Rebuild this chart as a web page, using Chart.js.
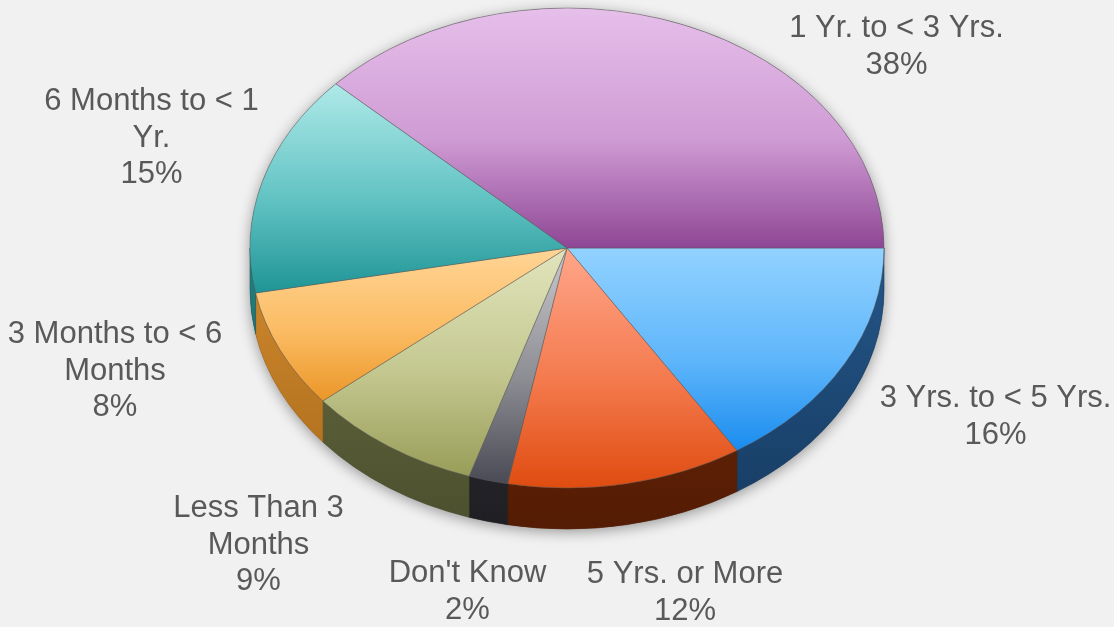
<!DOCTYPE html>
<html>
<head>
<meta charset="utf-8">
<title>Length of time</title>
<script src="https://cdn.jsdelivr.net/npm/chart.js@4.4.1/dist/chart.umd.min.js"></script>
<style>
  html, body { margin: 0; padding: 0; background: #f1f1f1; }
  #wrap { width: 1114px; height: 627px; position: relative; }
  canvas { display: block; }
</style>
</head>
<body>
<div id="wrap"><canvas id="pie" width="1114" height="627"></canvas></div>
<script>
// ---- data ----
const categories = [
  '3 Yrs. to < 5 Yrs.',
  '5 Yrs. or More',
  "Don't Know",
  'Less Than 3 Months',
  '3 Months to < 6 Months',
  '6 Months to < 1 Yr.',
  '1 Yr. to < 3 Yrs.'
];
const shares = [16, 12, 2, 9, 8, 15, 38];
const percentLabels = shares.map(v => v + '%');

// ---- styling ----
const faceLight = ['#92d2ff', '#ffa68a', '#c9c9cd', '#e2e5bd', '#ffd596', '#afe9e9', '#e6bfea'];
const faceMid   = ['#5fb6fb', '#f47a4e', '#8d8d94', '#c3c78f', '#fbbb62', '#62c3c3', '#cf9bd4'];
const faceDark  = ['#1a8cee', '#df4c10', '#4a4a55', '#989d58', '#eb9628', '#1f9496', '#8e4694'];
const sideTop   = ['#24578a', '#702a0a', '#34343b', '#6a6f42', '#d08a2e', '#237f80', '#6a3470'];
const sideBot   = ['#163b61', '#541c04', '#1e1e23', '#4b4f2e', '#a9691a', '#185f60', '#4e2553'];

// ---- layout ----
const RADIUS = 317;        // horizontal radius of the disc
const TILT = 0.757;        // vertical squash of the disc
const DEPTH = 41;          // thickness of the disc edge
const WRAP_WIDTH = 245;    // label wrapping width
const LINE_H = 36.5;
// label anchor: text centre x and first baseline, relative to the disc centre
const LABEL_SPOTS = [
  [428.5, 159], [118, 335], [-99.5, 334], [-308.5, 269],
  [-452, 95], [-415.5, -138], [329.5, -211]
];

const total = shares.reduce((a, b) => a + b, 0);

function sliceAngles(i) {
  let a0 = 0;
  for (let j = 0; j < i; j++) a0 += shares[j] / total * Math.PI * 2;
  return [a0, a0 + shares[i] / total * Math.PI * 2];
}

// vertical gradient across each slice's own extent (drawn in un-squashed space)
function faceFill(c) {
  const chart = c.chart, area = chart.chartArea, i = c.dataIndex;
  if (!area) return faceDark[i];
  const cy = (area.top + area.bottom) / 2;
  const [a0, a1] = sliceAngles(i);
  let lo = 0, hi = 0;
  for (let s = 0; s <= 64; s++) {
    const y = Math.sin(a0 + (a1 - a0) * s / 64);
    lo = Math.min(lo, y); hi = Math.max(hi, y);
  }
  const g = chart.ctx.createLinearGradient(0, cy + lo * RADIUS, 0, cy + hi * RADIUS);
  g.addColorStop(0, faceLight[i]);
  g.addColorStop(0.55, faceMid[i]);
  g.addColorStop(1, faceDark[i]);
  return g;
}

// draws the shadow and the rim, then squashes the canvas so the slices render as an ellipse
const tiltPlugin = {
  id: 'tilt',
  beforeDatasetsDraw(chart) {
    const ctx = chart.ctx;
    const arcs = chart.getDatasetMeta(0).data;
    const cx = arcs[0].x, cy = arcs[0].y, r = arcs[0].outerRadius, ry = r * TILT;

    ctx.save();
    ctx.shadowColor = 'rgba(0,0,0,0.38)';
    ctx.shadowBlur = 14;
    ctx.shadowOffsetY = 3;
    ctx.fillStyle = '#6a6a6a';
    ctx.beginPath();
    ctx.ellipse(cx, cy, r, ry, 0, Math.PI, Math.PI * 2);
    ctx.lineTo(cx + r, cy + DEPTH);
    ctx.ellipse(cx, cy + DEPTH, r, ry, 0, 0, Math.PI);
    ctx.closePath();
    ctx.fill();
    ctx.restore();

    arcs.forEach((arc, i) => {
      const s = Math.max(arc.startAngle, 0), e = Math.min(arc.endAngle, Math.PI);
      if (e <= s) return;
      ctx.beginPath();
      ctx.ellipse(cx, cy, r, ry, 0, s, e);
      ctx.ellipse(cx, cy + DEPTH, r, ry, 0, e, s, true);
      ctx.closePath();
      const g = ctx.createLinearGradient(0, cy, 0, cy + ry + DEPTH);
      g.addColorStop(0, sideTop[i]);
      g.addColorStop(1, sideBot[i]);
      ctx.fillStyle = g;
      ctx.fill();
      ctx.strokeStyle = sideBot[i];
      ctx.lineWidth = 0.6;
      ctx.stroke();
    });

    ctx.save();
    ctx.translate(cx, cy);
    ctx.scale(1, TILT);
    ctx.translate(-cx, -cy);
  },
  afterDatasetsDraw(chart) {
    chart.ctx.restore();
  }
};

function wrapText(ctx, text, maxW) {
  const words = text.split(' ');
  const out = [];
  let line = '';
  words.forEach(w => {
    const test = line ? line + ' ' + w : w;
    if (line && ctx.measureText(test).width > maxW) { out.push(line); line = w; }
    else line = test;
  });
  if (line) out.push(line);
  return out;
}

const labelPlugin = {
  id: 'sliceLabels',
  afterDatasetsDraw(chart) {
    const ctx = chart.ctx;
    const arc = chart.getDatasetMeta(0).data[0];
    const cx = arc.x, cy = arc.y;
    ctx.save();
    ctx.font = '31px "Liberation Sans", Arial, sans-serif';
    ctx.fillStyle = '#595959';
    ctx.textAlign = 'center';
    ctx.textBaseline = 'alphabetic';
    categories.forEach((name, i) => {
      const lines = wrapText(ctx, name, WRAP_WIDTH).concat(percentLabels[i]);
      const [dx, dy] = LABEL_SPOTS[i];
      lines.forEach((ln, k) => ctx.fillText(ln, cx + dx, cy + dy + k * LINE_H));
    });
    ctx.restore();
  }
};

new Chart(document.getElementById('pie'), {
  type: 'pie',
  data: {
    labels: categories,
    datasets: [{
      data: shares,
      backgroundColor: faceFill,
      borderColor: 'rgba(90,90,90,0.55)',
      borderWidth: 1
    }]
  },
  options: {
    responsive: false,
    animation: false,
    rotation: 90,
    radius: RADIUS,
    layout: { padding: { left: 20, right: 0, top: 0, bottom: 131 } },
    plugins: {
      legend: { display: false },
      tooltip: { enabled: false }
    }
  },
  plugins: [tiltPlugin, labelPlugin]
});
</script>
</body>
</html>
